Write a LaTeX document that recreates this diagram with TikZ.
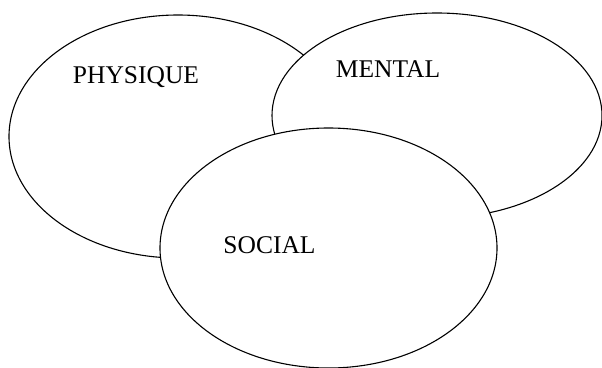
\documentclass[tikz,border=0pt]{standalone}
\usepackage{fontspec}
\setmainfont{Liberation Serif}
\usetikzlibrary{shapes.geometric, positioning}

\begin{document}
\begin{tikzpicture}[
        x=1pt, y=-1pt,
        area/.style={ellipse, draw=black, fill=white, line width=1.1pt, inner sep=0pt},
        areaname/.style={anchor=base, font=\fontsize{25.5}{30}\selectfont}
    ]
        \useasboundingbox (0,0) rectangle (602,367);
        % the three areas, back to front
        \node[area, minimum width=338pt, minimum height=243pt] (physique) at (178,136.5) {};
        \node[area, minimum width=330pt, minimum height=205pt] (mental) at (437,115.5) {};
        \node[area, minimum width=337pt, minimum height=240pt] (social) at (328.5,248) {};

        \node[areaname] (physiquename) at (136,83) {PHYSIQUE};
        \node[areaname] (mentalname) at (388,77) {MENTAL};
        \node[areaname] (socialname) at (269.5,253) {SOCIAL};
    \end{tikzpicture}
\end{document}
